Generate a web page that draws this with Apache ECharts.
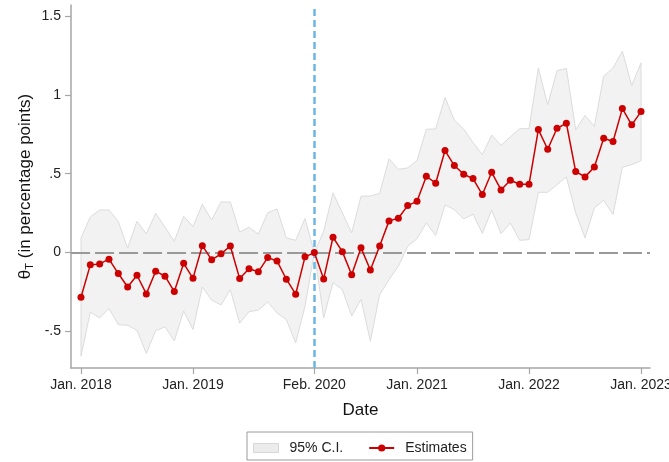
<!DOCTYPE html>
<html>
<head>
<meta charset="utf-8">
<script src="https://cdn.jsdelivr.net/npm/echarts@6/dist/echarts.min.js"></script>
<style>
  html, body { margin: 0; padding: 0; background: #fff; }
  #chart { width: 669px; height: 462px; }
</style>
</head>
<body>
<div id="chart"></div>
<script>
// Monthly event-study estimates, Jan. 2018 (index 0) to Jan. 2023 (index 60)
const estimates = [-0.283, -0.078, -0.072, -0.042, -0.133, -0.218, -0.144, -0.262, -0.118, -0.150,
  -0.247, -0.068, -0.163, 0.044, -0.046, -0.008, 0.042, -0.165, -0.103, -0.122,
  -0.032, -0.053, -0.169, -0.264, -0.027, 0.000, -0.167, 0.097, 0.006, -0.141,
  0.030, -0.110, 0.042, 0.201, 0.218, 0.298, 0.325, 0.484, 0.440, 0.647,
  0.552, 0.497, 0.469, 0.368, 0.509, 0.397, 0.459, 0.433, 0.433, 0.780,
  0.655, 0.788, 0.820, 0.514, 0.480, 0.543, 0.725, 0.704, 0.913, 0.810, 0.894];

// 95% confidence interval bounds
const ciUpper = [0.091, 0.226, 0.270, 0.270, 0.197, 0.028, 0.199, 0.118, 0.249, 0.161,
  0.072, 0.230, 0.165, 0.306, 0.207, 0.321, 0.321, 0.130, 0.161, 0.117,
  0.252, 0.277, 0.093, 0.078, 0.216, 0.000, 0.135, 0.379, 0.252, 0.125,
  0.357, 0.359, 0.375, 0.594, 0.528, 0.537, 0.584, 0.782, 0.784, 0.983,
  0.840, 0.783, 0.698, 0.621, 0.745, 0.680, 0.734, 0.786, 0.786, 1.171,
  0.937, 1.154, 1.167, 0.780, 0.869, 0.801, 1.118, 1.171, 1.277, 1.059, 1.203];

const ciLower = [-0.657, -0.378, -0.414, -0.355, -0.457, -0.461, -0.493, -0.640, -0.495, -0.471,
  -0.560, -0.370, -0.488, -0.218, -0.302, -0.332, -0.235, -0.448, -0.375, -0.365,
  -0.313, -0.383, -0.425, -0.573, -0.340, 0.000, -0.414, -0.190, -0.235, -0.402,
  -0.296, -0.562, -0.266, -0.171, -0.087, 0.040, 0.088, 0.188, 0.108, 0.302,
  0.273, 0.213, 0.244, 0.122, 0.270, 0.120, 0.188, 0.078, 0.082, 0.382,
  0.382, 0.431, 0.480, 0.252, 0.093, 0.283, 0.332, 0.241, 0.541, 0.558, 0.583];

// Axis ticks
const xTickValues = [0, 12, 25, 36, 48, 60];
const xTickLabels = ['Jan. 2018', 'Jan. 2019', 'Feb. 2020', 'Jan. 2021', 'Jan. 2022', 'Jan. 2023'];
const yTickValues = [-0.5, 0, 0.5, 1, 1.5];
const yTickLabels = ['-.5', '0', '.5', '1', '1.5'];
const referenceMonth = 25; // Feb. 2020

const FONT = 'Liberation Sans, Arial, sans-serif';
const estData = estimates.map((v, i) => [i, v]);
const bandData = ciLower.map((v, i) => [i, v, ciUpper[i]]);

const chart = echarts.init(document.getElementById('chart'), null, { renderer: 'canvas' });

chart.setOption({
  animation: false,
  backgroundColor: '#fff',
  textStyle: { fontFamily: FONT },
  grid: { left: 71, right: 19, top: 5, bottom: 94, containLabel: false, outerBoundsMode: 'none' },
  xAxis: {
    type: 'value',
    min: -1.07,
    max: 60.96,
    name: 'Date',
    nameLocation: 'middle',
    nameGap: 34,
    nameMoveOverlap: false,
    nameTextStyle: { fontSize: 17, color: '#111', fontFamily: FONT },
    splitLine: { show: false },
    axisLine: { show: true, onZero: false, lineStyle: { color: '#a6a6a6', width: 1.5 } },
    axisTick: { show: true, length: 6, customValues: xTickValues, lineStyle: { color: '#a6a6a6', width: 1.2 } },
    axisLabel: {
      customValues: xTickValues,
      fontSize: 14,
      color: '#222',
      margin: 10,
      fontFamily: FONT,
      hideOverlap: false,
      formatter: (v) => xTickLabels[xTickValues.indexOf(v)] || ''
    }
  },
  yAxis: {
    type: 'value',
    min: -0.732,
    max: 1.57,
    name: '{t|θ}{s|T}{t| (in percentage points)}',
    nameLocation: 'middle',
    nameGap: 36,
    nameMoveOverlap: false,
    nameRotate: 90,
    nameTextStyle: {
      fontFamily: FONT,
      color: '#111',
      rich: {
        t: { fontSize: 17, lineHeight: 20, color: '#111', fontFamily: FONT },
        s: { fontSize: 11, lineHeight: 12, verticalAlign: 'bottom', color: '#111', fontFamily: FONT }
      }
    },
    splitLine: { show: false },
    axisLine: { show: true, onZero: false, lineStyle: { color: '#a6a6a6', width: 1.5 } },
    axisTick: { show: true, length: 6, customValues: yTickValues, lineStyle: { color: '#a6a6a6', width: 1.2 } },
    axisLabel: {
      customValues: yTickValues,
      fontSize: 14,
      color: '#222',
      margin: 10,
      fontFamily: FONT,
      formatter: (v) => {
        const k = yTickValues.findIndex((t) => Math.abs(t - v) < 1e-9);
        return k >= 0 ? yTickLabels[k] : '';
      }
    }
  },
  legend: {
    left: 247,
    top: 432,
    orient: 'horizontal',
    padding: [9, 6, 5, 6],
    itemGap: 25,
    itemWidth: 25,
    itemHeight: 9,
    borderColor: '#9a9a9a',
    borderWidth: 1,
    borderRadius: 0,
    backgroundColor: '#fff',
    selectedMode: false,
    textStyle: { fontSize: 14, color: '#222', fontFamily: FONT, padding: [0, 0, 0, 6] },
    data: [
      { name: '95% C.I.', icon: 'rect', itemStyle: { color: '#ececec', borderColor: '#d8d8d8', borderWidth: 1 } },
      { name: 'Estimates' }
    ]
  },
  series: [
    {
      name: '95% C.I.',
      type: 'custom',
      z: 1,
      clip: true,
      data: bandData,
      encode: { x: 0, y: [1, 2] },
      itemStyle: { color: '#ececec' },
      renderItem: (params, api) => {
        if (params.dataIndex !== 0) return null;
        const n = params.dataInsideLength;
        const top = [];
        const bottom = [];
        for (let i = 0; i < n; i++) {
          const x = api.value(0, i);
          top.push(api.coord([x, api.value(2, i)]));
          bottom.push(api.coord([x, api.value(1, i)]));
        }
        return {
          type: 'polygon',
          shape: { points: top.concat(bottom.reverse()) },
          style: { fill: '#f2f2f2', stroke: '#dcdcdc', lineWidth: 1 }
        };
      }
    },
    {
      // reference lines: zero effect and treatment month
      name: 'ref',
      type: 'line',
      z: 2,
      data: [],
      silent: true,
      markLine: {
        silent: true,
        symbol: ['none', 'none'],
        animation: false,
        label: { show: false },
        emphasis: { disabled: true },
        data: [
          { yAxis: 0, lineStyle: { color: '#999', width: 2, type: [19, 5] } },
          { xAxis: referenceMonth, lineStyle: { color: '#6cb6e6', width: 2.5, type: [7, 4] } }
        ]
      }
    },
    {
      name: 'Estimates',
      type: 'line',
      z: 5,
      data: estData,
      symbol: 'circle',
      symbolSize: 7,
      showSymbol: true,
      lineStyle: { color: '#cc0000', width: 1.5 },
      itemStyle: { color: '#cc0000' },
      emphasis: { disabled: true }
    }
  ]
});
</script>
</body>
</html>
